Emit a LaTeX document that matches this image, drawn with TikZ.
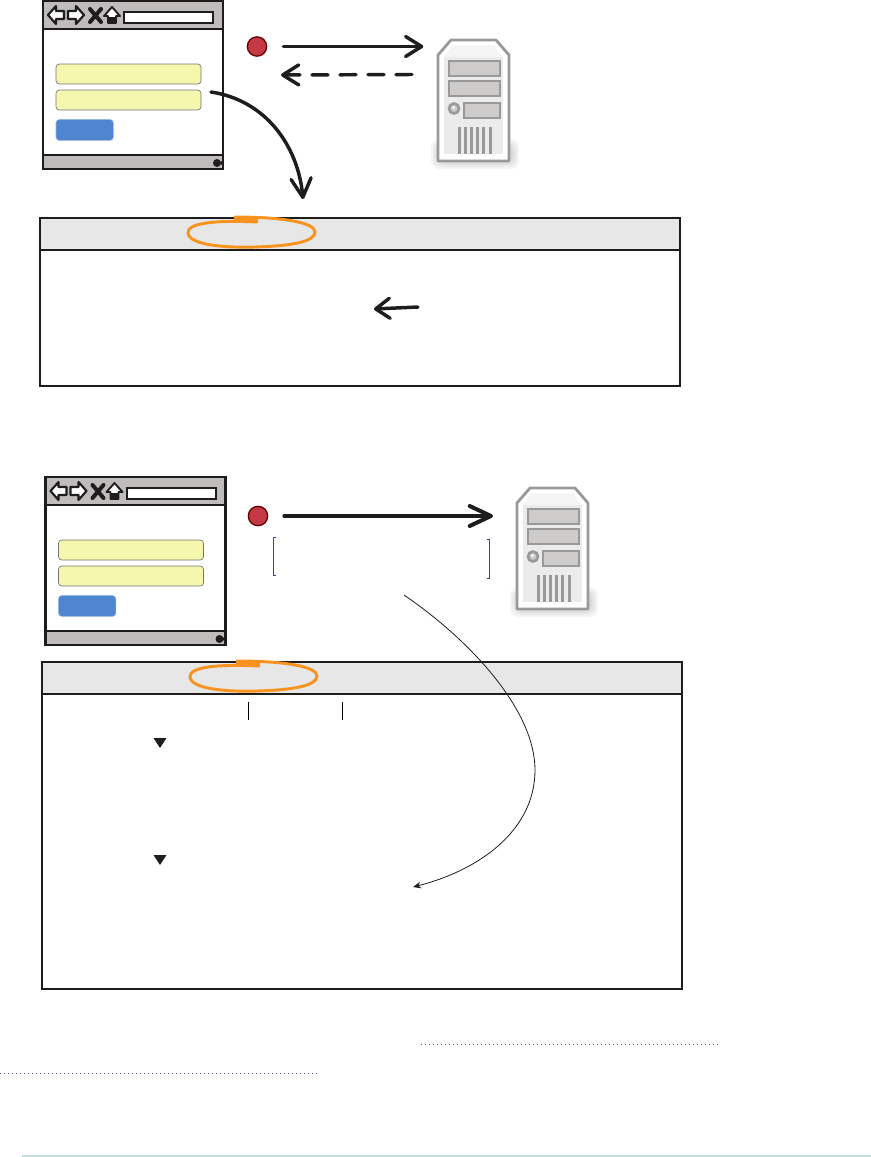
\documentclass[tikz,border=0pt]{standalone}
\usepackage{amsmath, amssymb}
\usepackage{tikz}
\usetikzlibrary{arrows.meta, positioning, calc}
\definecolor{mInk}{HTML}{1E1C1D}
\definecolor{mBar}{HTML}{BFBDBB}
\definecolor{mBand}{HTML}{E7E7E7}
\definecolor{mField}{HTML}{F6F7AE}
\definecolor{mButton}{HTML}{4F86CF}
\definecolor{mRed}{HTML}{C53944}
\definecolor{mOrange}{HTML}{F7931E}
\definecolor{mSteel}{HTML}{999999}
\definecolor{mBay}{HTML}{CDCCCA}
\definecolor{mBracket}{HTML}{2A4B9B}
\definecolor{mDots}{HTML}{5B4FA8}
\definecolor{mRule}{HTML}{C5DDD8}
\tikzset{
  sketcharrow/.style={draw=mInk, line width=2.6pt, line cap=round, -{Straight Barb[length=#1,width=15pt,round]}},
  sketcharrow/.default=12pt,
  fieldbox/.style={draw=black!55, line width=0.5pt, fill=mField, rounded corners=2.5pt, anchor=north west, inner sep=0pt, outer sep=0pt, minimum width=108.75pt, minimum height=15pt},
  buttonbox/.style={draw=mButton!60, line width=0.4pt, fill=mButton, rounded corners=2.5pt, anchor=north west, inner sep=0pt, outer sep=0pt, minimum width=43pt, minimum height=15.7pt},
  reddot/.style={circle, draw=red!40!black, line width=1pt, fill=mRed, inner sep=0pt, minimum size=14.5pt},
  panelbox/.style={draw=mInk, line width=1.8pt, anchor=north west, inner sep=0pt, outer sep=0pt, minimum width=480pt},
  bracketline/.style={draw=mBracket, line width=0.6pt},
  loopline/.style={draw=mOrange, line width=2.2pt, line cap=round},
  dotline/.style={draw=mDots, line width=0.7pt, dash pattern=on 0.8pt off 2.2pt},
  browser/.pic={
    \node[draw=mInk, line width=1.9pt, anchor=north west, inner sep=0pt, outer sep=0pt, minimum width=135pt, minimum height=126pt] (-frame) at (0,0) {};
    \draw[mInk, line width=1.9pt, fill=mBar] (0,0) rectangle (180,28);
    \draw[mInk, line width=1.9pt, fill=mBar] (0,154) rectangle (180,168);
    \draw[mInk, line width=1.6pt, fill=white, line join=round] (5,14) -- (13,5) -- (13,10) -- (21,10) -- (21,18) -- (13,18) -- (13,23) -- cycle;
    \draw[mInk, line width=1.6pt, fill=white, line join=round] (41,14) -- (33,5) -- (33,10) -- (25,10) -- (25,18) -- (33,18) -- (33,23) -- cycle;
    \draw[mInk, line width=3pt, line cap=round] (47,8) -- (58,21) (58,8) -- (47,21);
    \draw[mInk, line width=1.4pt, fill=white, line join=round] (69,6) -- (77,15) -- (73,15) -- (73,22) -- (65,22) -- (65,15) -- (61,15) -- cycle;
    \fill[mInk] (65,16) rectangle (73,23);
    \draw[mInk, line width=1.5pt, fill=white] (81,11) rectangle (170,22);
    \fill[mInk] (174,162) circle (4) (178.5,162) circle (1.8);
    \node[fieldbox] (-user) at (13,63) {};
    \node[fieldbox] (-pass) at (13,89) {};
    \node[buttonbox] (-send) at (13,118.5) {};
  },
  server/.pic={
    \foreach \grow in {0,2,4,6} {
      \fill[black, opacity=0.04, rounded corners=6] (-7+\grow,99+\grow) rectangle (81-\grow,129-\grow);
    }
    \draw[mSteel, line width=2.1pt, fill=white, line join=round] (0,15) -- (13,0) -- (58,0) -- (71,15) -- (71,121) -- (0,121) -- cycle;
    \fill[black!8] (6,17) -- (65,17) -- (65,114) -- (6,114) -- cycle;
    \fill[black!4] (6,17) -- (15,5) -- (56,5) -- (65,17) -- cycle;
    \foreach \ytop/\xleft in {21/11, 41/11, 63/26} {
      \draw[mSteel, line width=2.2pt, fill=mBay] (\xleft,\ytop) rectangle (62,\ytop+15);
    }
    \draw[mSteel, line width=2pt, fill=mBay] (16,68.5) circle (5);
    \fill[white] (15.5,67.5) circle (1.5);
    \foreach \i in {0,...,5} {
      \fill[mSteel] (19.5+6.2*\i,87) rectangle ++(3,27);
    }
    \node[anchor=north west, inner sep=0pt, outer sep=0pt, minimum width=53.25pt, minimum height=90.75pt] (-case) at (0,0) {};
  },
  headerloop/.pic={
    \draw[loopline] (257,222) .. controls (215,220) and (187,223) .. (188,233) .. controls (189,245) and (225,248) .. (255,247) .. controls (290,246) and (315,242) .. (315,232) .. controls (315,222) and (280,217) .. (235,217);
    \draw[loopline, line width=3.2pt, line cap=butt] (234,218.5) -- (258,220.5);
  }
}
\begin{document}
\begin{tikzpicture}[x=0.75pt, y=-0.75pt]
  \useasboundingbox (0,0) rectangle (871,1157);
  % top exchange
  \pic (winA) at (43,1) {browser};
  \pic (srvA) at (438,40) {server};
  \node[reddot] (dotA) at (257,46.5) {};
  \coordinate (backA) at (412,74.5);
  \coordinate (backAend) at (281,75);
  \coordinate (cookieA) at (211,92);
  \coordinate (headA) at (303,199);
  \draw[sketcharrow, shorten <=12pt, shorten >=11pt] (dotA.east) -- (dotA.east -| srvA-case.west);
  \draw[sketcharrow, dash pattern=on 12pt off 9pt] (backA) -- (backAend);
  \draw[sketcharrow=14pt] (cookieA) .. controls (265,100) and (298,145) .. (headA);
  % response panel
  \node[panelbox, minimum height=126pt] (panelA) at (40,218) {};
  \fill[mBand] (40,218) rectangle (680,250);
  \draw[mInk, line width=1.8pt] (panelA.north west) rectangle (panelA.south east);
  \draw[mInk, line width=1.8pt] (40,250) -- (680,250);
  \pic at (0,0) {headerloop};
  \coordinate (noteA) at (418,307);
  \coordinate (noteAend) at (374,309);
  \draw[sketcharrow=10.5pt] (noteA) -- (noteAend);
  % bottom exchange
  \pic (winB) at (45.5,477) {browser};
  \pic (srvB) at (517,488) {server};
  \node[reddot] (dotB) at (258,516) {};
  \draw[sketcharrow=16pt, line width=3pt, shorten <=12pt, shorten >=18pt] (dotB.east) -- (dotB.east -| srvB-case.west);
  \draw[bracketline] (275.5,537) -- (273,537) -- (273,575) -- (275.5,575);
  \draw[bracketline] (486.5,539) -- (489,539) -- (489,578) -- (486.5,578);
  % request panel
  \node[panelbox, minimum height=245.25pt] (panelB) at (42,662) {};
  \fill[mBand] (42,662) rectangle (682,694);
  \draw[mInk, line width=1.8pt] (panelB.north west) rectangle (panelB.south east);
  \draw[mInk, line width=1.8pt] (42,694) -- (682,694);
  \pic at (2,444) {headerloop};
  \foreach \xpos in {248,342} {
    \draw[black, line width=0.7pt] (\xpos,702) -- (\xpos,720);
  }
  \foreach \ypos in {738,855} {
    \fill[mInk] (153.5,\ypos) -- (166.5,\ypos) -- (160,\ypos+10) -- cycle;
  }
  \coordinate (lineS) at (404,595);
  \coordinate (lineE) at (413,887);
  \draw[mInk, line width=0.6pt, -{Stealth[length=6pt,width=5pt]}] (lineS) .. controls (470,640) and (535,710) .. (535,770) .. controls (535,830) and (480,870) .. (lineE);
  % footer
  \draw[dotline] (421,1044.5) -- (720,1044.5);
  \draw[dotline] (0,1073.5) -- (318,1073.5);
  \draw[mRule, line width=0.8pt] (22,1156) -- (871,1156);
\end{tikzpicture}
\end{document}
